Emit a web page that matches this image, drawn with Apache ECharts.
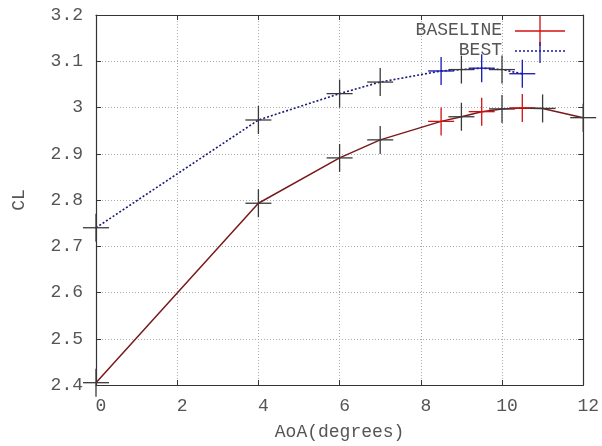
<!DOCTYPE html>
<html>
<head>
<meta charset="utf-8">
<script src="https://cdn.jsdelivr.net/npm/echarts@6/dist/echarts.min.js"></script>
<style>html,body{margin:0;padding:0;background:#fff}#c{width:602px;height:446px}</style>
</head>
<body>
<div id="c"></div>
<script>
// Data
const aoaBaseline = [0, 4, 6, 7, 8.5, 9, 9.5, 10, 10.5, 11, 12];
const clBaseline  = [2.405, 2.793, 2.891, 2.930, 2.970, 2.980, 2.991, 2.997, 2.999, 2.998, 2.978];
const aoaBest     = [0, 4, 6, 7, 8.5, 9, 9.5, 10, 10.5];
const clBest      = [2.740, 2.973, 3.030, 3.055, 3.079, 3.082, 3.085, 3.082, 3.073];
const highlightedAoA = [8.5, 9.5, 10.5];
const xTicks = [0, 2, 4, 6, 8, 10, 12];
const yTicks = [2.4, 2.5, 2.6, 2.7, 2.8, 2.9, 3.0, 3.1, 3.2];
const seriesNames = ['BASELINE', 'BEST'];

const FONT = '"Liberation Mono", "DejaVu Sans Mono", monospace';
const TXT = '#555';
const FRAME = '#333';

function pairs(xs, ys) { return xs.map((x, i) => [x, ys[i]]); }
function crossData(xs, ys) { return xs.map((x, i) => [x, ys[i], highlightedAoA.includes(x) ? 1 : 0]); }

function crossRenderer(markColor) {
  return function (params, api) {
    const p = api.coord([api.value(0), api.value(1)]);
    const col = api.value(2) ? markColor : '#3a3a3a';
    const st = { stroke: col, lineWidth: 1.3 };
    return { type: 'group', children: [
      { type: 'line', shape: { x1: p[0] - 13, y1: p[1], x2: p[0] + 13, y2: p[1] }, style: st },
      { type: 'line', shape: { x1: p[0], y1: p[1] - 14, x2: p[0], y2: p[1] + 14 }, style: st }
    ]};
  };
}

const chart = echarts.init(document.getElementById('c'), null, { renderer: 'canvas' });
const gridLine = { show: true, lineStyle: { color: '#aaa', type: [1, 2], width: 1 } };

chart.setOption({
  animation: false,
  backgroundColor: '#fff',
  grid: { left: 96, right: 14, top: 15, bottom: 61 },
  xAxis: [{
    type: 'value', min: xTicks[0], max: xTicks[xTicks.length - 1], interval: 2,
    name: 'AoA(degrees)', nameLocation: 'middle', nameGap: 38,
    nameTextStyle: { fontFamily: FONT, fontSize: 18, color: TXT },
    axisLine: { show: true, onZero: false, lineStyle: { color: FRAME, width: 1.2 } },
    axisTick: { show: true, inside: true, length: 5, lineStyle: { color: FRAME } },
    axisLabel: { fontFamily: FONT, fontSize: 18, color: TXT, margin: 12, padding: [0, 0, 0, 10] },
    splitLine: gridLine
  }, {
    type: 'value', position: 'top', min: xTicks[0], max: xTicks[xTicks.length - 1], interval: 2,
    axisLine: { show: true, onZero: false, lineStyle: { color: FRAME, width: 1.2 } },
    axisTick: { show: true, inside: true, length: 5, lineStyle: { color: FRAME } },
    axisLabel: { show: false }, splitLine: { show: false }
  }],
  yAxis: [{
    type: 'value', min: yTicks[0], max: yTicks[yTicks.length - 1], interval: 0.1,
    name: 'CL', nameLocation: 'middle', nameGap: 68, nameRotate: 90,
    nameTextStyle: { fontFamily: FONT, fontSize: 18, color: TXT },
    axisLine: { show: true, onZero: false, lineStyle: { color: FRAME, width: 1.2 } },
    axisTick: { show: true, inside: true, length: 5, lineStyle: { color: FRAME } },
    axisLabel: { fontFamily: FONT, fontSize: 18, color: TXT, margin: 13 },
    splitLine: gridLine
  }, {
    type: 'value', position: 'right', min: yTicks[0], max: yTicks[yTicks.length - 1], interval: 0.1,
    axisLine: { show: true, onZero: false, lineStyle: { color: FRAME, width: 1.2 } },
    axisTick: { show: true, inside: true, length: 5, lineStyle: { color: FRAME } },
    axisLabel: { show: false }, splitLine: { show: false }
  }],
  series: [
    { name: seriesNames[0], type: 'line', data: pairs(aoaBaseline, clBaseline), showSymbol: false,
      lineStyle: { color: '#7a1a1a', width: 1.5 }, z: 3 },
    { name: seriesNames[1], type: 'line', data: pairs(aoaBest, clBest), showSymbol: false,
      lineStyle: { color: '#1a1a7a', width: 1.6, type: [2, 2] }, z: 3 },
    { type: 'custom', data: crossData(aoaBaseline, clBaseline), renderItem: crossRenderer('#d01010'),
      clip: false, z: 4, encode: { x: 0, y: 1 } },
    { type: 'custom', data: crossData(aoaBest, clBest), renderItem: crossRenderer('#1515b0'),
      clip: false, z: 4, encode: { x: 0, y: 1 } }
  ],
  graphic: [
    { type: 'text', right: 100, top: 21, style: { text: seriesNames[0], font: '18px ' + FONT, fill: TXT } },
    { type: 'text', right: 100, top: 41, style: { text: seriesNames[1], font: '18px ' + FONT, fill: TXT } },
    { type: 'line', shape: { x1: 515, y1: 31, x2: 565, y2: 31 }, style: { stroke: '#d01010', lineWidth: 1.3 }, z: 10 },
    { type: 'line', shape: { x1: 540, y1: 16, x2: 540, y2: 46 }, style: { stroke: '#d01010', lineWidth: 1.3 }, z: 10 },
    { type: 'line', shape: { x1: 515, y1: 51, x2: 565, y2: 51 }, style: { stroke: '#1a1a99', lineWidth: 1.5, lineDash: [2, 2] }, z: 10 },
    { type: 'line', shape: { x1: 540, y1: 42, x2: 540, y2: 63 }, style: { stroke: '#1a1a99', lineWidth: 1.3 }, z: 10 }
  ]
});
</script>
</body>
</html>
